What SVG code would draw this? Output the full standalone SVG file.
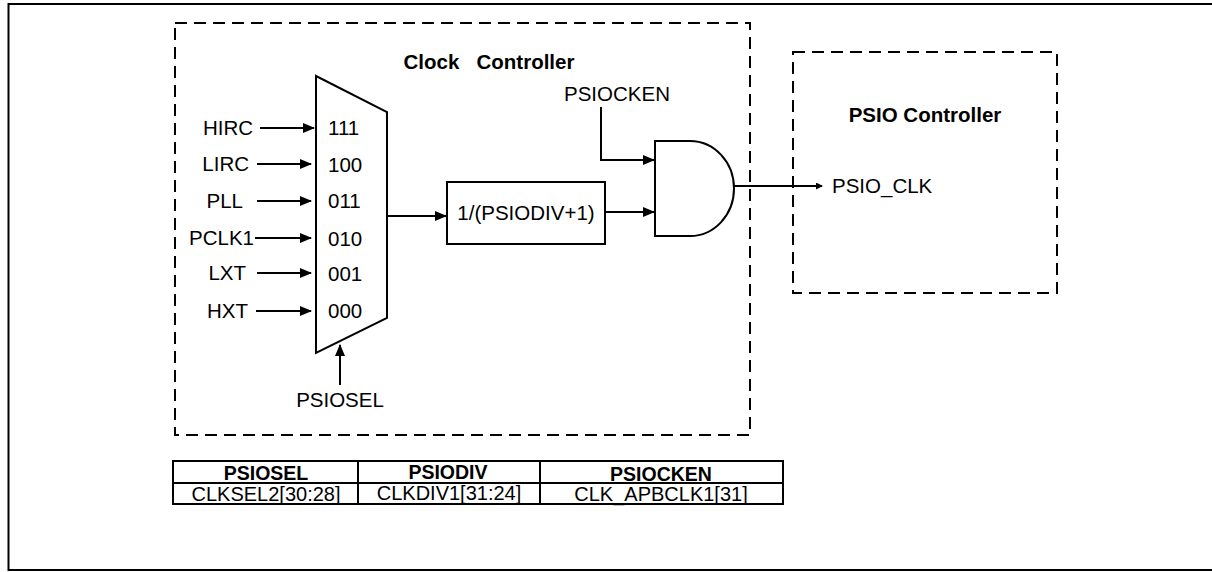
<svg xmlns="http://www.w3.org/2000/svg" width="1212" height="572" viewBox="0 0 1212 572">
<style>
text{font-family:"Liberation Sans",Arial,sans-serif;fill:#000}
.lbl{font-size:20.5px}
.b{font-size:20.5px;font-weight:bold}
.tb{font-size:19.5px;font-weight:bold}
.tr{font-size:20px}
.dash{fill:none;stroke:#000;stroke-width:2;stroke-dasharray:12 7}
.ln{fill:none;stroke:#000;stroke-width:2}
.shape{fill:#fff;stroke:#000;stroke-width:2}
.tl{stroke:#000;stroke-width:2}
</style>
<defs>
<marker id="ah" markerWidth="12" markerHeight="10" refX="11" refY="5" orient="auto" markerUnits="userSpaceOnUse"><path d="M0,0 L12,5 L0,10 Z" fill="#000"/></marker>
<marker id="ahs" markerWidth="7" markerHeight="7" refX="6" refY="3.5" orient="auto" markerUnits="userSpaceOnUse"><path d="M0,0 L7,3.5 L0,7 Z" fill="#000"/></marker>
</defs>
<rect width="1212" height="572" fill="#fff"/>
<path d="M1212,4 H8.5 V570 H1212" fill="none" stroke="#000" stroke-width="2"/>
<g id="clock-controller">
<rect class="dash" x="175" y="23" width="575" height="412"/>
<text class="b" x="489" y="69" text-anchor="middle" xml:space="preserve">Clock   Controller</text>
</g>
<g id="psio-controller">
<rect class="dash" x="793" y="52" width="264" height="241"/>
<text class="b" x="925" y="122" text-anchor="middle">PSIO Controller</text>
</g>
<g id="mux">
<path class="shape" d="M316,76 L387,112 L387,318 L316,353 Z"/>
<text class="lbl" x="328" y="135">111</text>
<text class="lbl" x="328" y="172">100</text>
<text class="lbl" x="328" y="208">011</text>
<text class="lbl" x="328" y="246">010</text>
<text class="lbl" x="328" y="281">001</text>
<text class="lbl" x="328" y="318">000</text>
</g>
<g id="inputs">
<text class="lbl" x="253" y="135" text-anchor="end">HIRC</text>
<text class="lbl" x="249" y="171" text-anchor="end">LIRC</text>
<text class="lbl" x="243" y="208" text-anchor="end">PLL</text>
<text class="lbl" x="254" y="245" text-anchor="end">PCLK1</text>
<text class="lbl" x="246" y="280" text-anchor="end">LXT</text>
<text class="lbl" x="248" y="318" text-anchor="end">HXT</text>
<text class="lbl" x="340" y="407" text-anchor="middle">PSIOSEL</text>
<text class="lbl" x="617" y="101" text-anchor="middle">PSIOCKEN</text>
</g>
<g id="divider">
<rect class="shape" x="447" y="182" width="158" height="62"/>
<text class="lbl" x="526" y="220" text-anchor="middle">1/(PSIODIV+1)</text>
</g>
<g id="and-gate">
<path class="shape" d="M655,141 H690 A44,47.5 0 0 1 690,236 H655 Z"/>
</g>
<g id="psio-clk">
<text class="lbl" x="832" y="193">PSIO_CLK</text>
</g>
<g id="connectors" class="ln">
<line x1="260" y1="128" x2="314" y2="128" marker-end="url(#ah)"/>
<line x1="257" y1="164" x2="311" y2="164" marker-end="url(#ah)"/>
<line x1="257" y1="201" x2="311" y2="201" marker-end="url(#ah)"/>
<line x1="255" y1="238" x2="311" y2="238" marker-end="url(#ah)"/>
<line x1="257" y1="273" x2="311" y2="273" marker-end="url(#ah)"/>
<line x1="256" y1="311" x2="311" y2="311" marker-end="url(#ah)"/>
<line x1="340" y1="385" x2="340" y2="345" marker-end="url(#ah)"/>
<line x1="387" y1="216" x2="446" y2="216" marker-end="url(#ah)"/>
<line x1="605" y1="212" x2="654" y2="212" marker-end="url(#ah)"/>
<polyline points="601,107 601,160 654,160" marker-end="url(#ah)"/>
<line x1="734" y1="186" x2="822" y2="186" marker-end="url(#ahs)"/>
</g>
<g id="table">
<rect x="173" y="461" width="610" height="43" fill="#fff" class="tl"/>
<line class="tl" x1="173" y1="483" x2="783" y2="483"/>
<line class="tl" x1="358" y1="461" x2="358" y2="504"/>
<line class="tl" x1="540" y1="461" x2="540" y2="504"/>
<text class="tb" x="266" y="480" text-anchor="middle">PSIOSEL</text>
<text class="tb" x="448" y="479" text-anchor="middle">PSIODIV</text>
<text class="tb" x="661" y="481" text-anchor="middle">PSIOCKEN</text>
<text class="tr" x="266" y="501" text-anchor="middle">CLKSEL2[30:28]</text>
<text class="tr" x="449" y="500" text-anchor="middle">CLKDIV1[31:24]</text>
<text class="tr" x="661" y="501" text-anchor="middle">CLK_APBCLK1[31]</text>
</g>
</svg>
